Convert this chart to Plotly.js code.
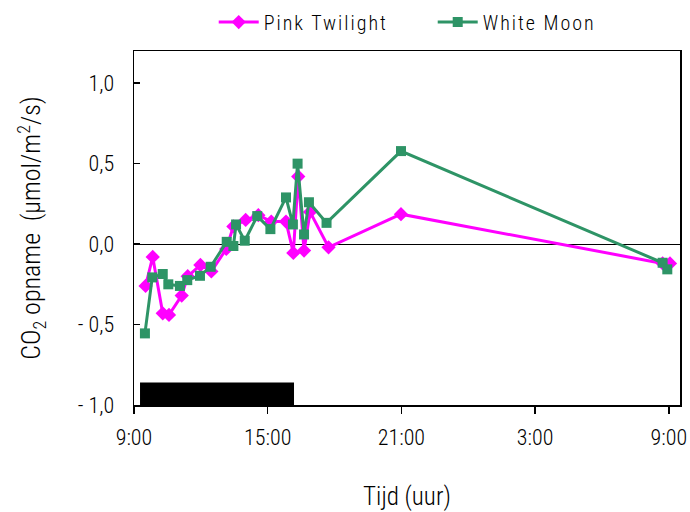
<!DOCTYPE html>
<html>
<head>
<meta charset="utf-8">
<script src="https://cdn.plot.ly/plotly-3.0.1.min.js"></script>
<style>
html,body{margin:0;padding:0;background:#fff;}
#chart{width:690px;height:512px;}
.legendtext{letter-spacing:2px;}
</style>
</head>
<body>
<div id="chart"></div>
<script>
// Time in hours since midnight of day 1 (33 = 9:00 next day)
const pinkTime  = [9.52, 9.84, 10.29, 10.57, 11.14, 11.41, 11.98, 12.47, 13.14, 13.46, 14.01, 14.58, 15.16, 15.82, 16.15, 16.37, 16.63, 16.90, 17.73, 20.98, 32.72, 33.05];
const pinkCO2   = [-0.26, -0.08, -0.43, -0.44, -0.32, -0.20, -0.13, -0.17, -0.03, 0.11, 0.15, 0.18, 0.14, 0.14, -0.055, 0.42, -0.04, 0.20, -0.02, 0.186, -0.12, -0.12];
const moonTime  = [9.49, 9.82, 10.29, 10.54, 11.06, 11.39, 11.96, 12.44, 13.16, 13.46, 13.58, 13.97, 14.53, 15.12, 15.82, 16.13, 16.34, 16.63, 16.85, 17.64, 20.98, 32.72, 32.93];
const moonCO2   = [-0.555, -0.207, -0.186, -0.25, -0.26, -0.224, -0.197, -0.141, 0.014, -0.012, 0.122, 0.021, 0.174, 0.093, 0.29, 0.122, 0.50, 0.06, 0.26, 0.132, 0.578, -0.116, -0.157];
const lightPeriod = [9.27, 16.18];
const xTickVals = [9, 15, 21, 27, 33];
const xTickText = ["9:00", "15:00", "21:00", "3:00", "9:00"];
const yTickVals = [-1, -0.5, 0, 0.5, 1];
const yTickText = ["- 1,0", "- 0,5", "0,0", "0,5", "1,0"];

const FONT = "'Roboto Condensed', 'Liberation Sans Narrow', 'Liberation Sans', Arial, sans-serif";

const traces = [
  {
    x: pinkTime, y: pinkCO2, name: "Pink Twilight", type: "scatter", mode: "lines+markers",
    line: {color: "#FF00FF", width: 3},
    marker: {symbol: "diamond", size: 11, color: "#FF00FF"}
  },
  {
    x: moonTime, y: moonCO2, name: "White Moon", type: "scatter", mode: "lines+markers",
    line: {color: "#2E9466", width: 3},
    marker: {symbol: "square", size: 10, color: "#2E9466"}
  }
];

const layout = {
  width: 690, height: 512,
  margin: {l: 134, r: 10, t: 51, b: 107},
  paper_bgcolor: "#fff", plot_bgcolor: "#fff",
  font: {family: FONT, size: 18, color: "#000", weight: 300},
  showlegend: true,
  legend: {orientation: "h", x: 0.146, xanchor: "left", xref: "paper", y: 0.995, yref: "container", yanchor: "top",
           font: {family: FONT, size: 20, color: "#000", weight: 300}, itemwidth: 40, traceorder: "normal",
           entrywidth: 164, entrywidthmode: "pixels"},
  xaxis: {
    range: [9, 33.5], tickvals: xTickVals, ticktext: xTickText,
    ticks: "outside", ticklen: 7, tickwidth: 1.5, tickcolor: "#000",
    showline: true, linecolor: "#000", linewidth: 1.5, mirror: true,
    showgrid: false, zeroline: false, ticklabelstandoff: 5,
    tickfont: {family: FONT, size: 22, weight: 300},
    title: {text: "Tijd (uur)", font: {family: FONT, size: 25, weight: 300}, standoff: 38}
  },
  yaxis: {
    range: [-1, 1.2], tickvals: yTickVals, ticktext: yTickText,
    ticks: "inside", ticklen: 6, tickwidth: 1.5, tickcolor: "#000",
    showline: true, linecolor: "#000", linewidth: 1.5, mirror: true,
    showgrid: false, zeroline: true, zerolinecolor: "#000", zerolinewidth: 1,
    ticklabelstandoff: 14,
    tickfont: {family: FONT, size: 22, weight: 300},
    title: {text: "CO<sub>2</sub> opname  (µmol/m<sup>2</sup>/s)", font: {family: FONT, size: 26, weight: 300}, standoff: 29}
  },
  shapes: [
    {type: "rect", xref: "x", yref: "y", x0: lightPeriod[0], x1: lightPeriod[1], y0: -1, y1: -0.86,
     fillcolor: "#000", line: {width: 0}, layer: "below"}
  ]
};

Plotly.newPlot("chart", traces, layout, {displayModeBar: false, staticPlot: true});
</script>
</body>
</html>
